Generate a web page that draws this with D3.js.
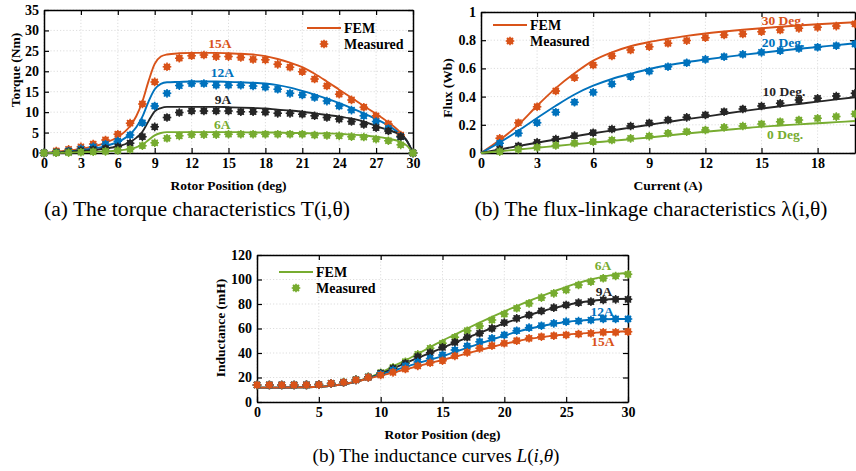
<!DOCTYPE html>
<html>
<head>
<meta charset="utf-8">
<script src="https://cdn.jsdelivr.net/npm/d3@7"></script>
<style>
    body { margin: 0; background: #fff; }
    svg { display: block; font-family: "Liberation Serif", "Times New Roman", serif; }
</style>
</head>
<body>
<div id="chart"></div>
<script>
// ---------------- data ----------------
// (a) torque vs rotor position
const torquePos = d3.range(0, 31);
const torqueFemPos = [0, 1, 2, 3, 4, 5, 6, 7, 7.5, 8, 8.5, 9, 9.5, 10, 11, 12, 13, 14, 15, 16, 17, 18, 19, 20,
    21, 22, 23, 24, 25, 26, 27, 28, 29, 29.5, 30];
const torqueFem15 = [0, 0.3, 0.6, 1.0, 1.6, 2.5, 3.9, 6.6, 9.0, 12.6, 17.6, 21.8, 23.6, 24.1, 24.4, 24.5, 24.5, 24.5,
    24.4, 24.3, 24.1, 23.7, 23.0, 22.1, 21.0, 19.4, 17.5, 15.5, 13.5, 11.5, 9.6, 7.5, 4.9, 3.0, 0];
const torqueFem12 = [0, 0.2, 0.4, 0.7, 1.1, 1.7, 2.7, 4.6, 6.3, 8.9, 12.6, 15.6, 16.9, 17.3, 17.4, 17.5, 17.5, 17.5,
    17.4, 17.3, 17.2, 17.0, 16.6, 16.0, 15.2, 14.3, 13.3, 12.2, 11.0, 9.7, 8.3, 6.7, 4.5, 3.0, 0];
const torqueFem9 = [0, 0.1, 0.3, 0.5, 0.7, 1.1, 1.6, 2.7, 3.7, 5.2, 7.8, 10.2, 11.0, 11.3, 11.3, 11.3, 11.3, 11.3,
    11.2, 11.1, 11.0, 10.9, 10.6, 10.4, 10.1, 9.7, 9.3, 8.9, 8.4, 7.7, 6.6, 5.6, 4.4, 3.0, 0];
const torqueFem6 = [0, 0.05, 0.1, 0.2, 0.3, 0.4, 0.6, 1.0, 1.4, 2.0, 3.2, 4.3, 4.9, 5.1, 5.1, 5.1, 5.1, 5.1,
    5.1, 5.1, 5.0, 5.0, 5.0, 4.9, 4.9, 4.8, 4.8, 4.7, 4.5, 4.3, 4.0, 3.5, 2.7, 1.8, 0];
const torqueMeas15 = [0, 0.5, 0.9, 1.5, 2.2, 3.2, 4.6, 7.3, 12.0, 17.4, 21.1, 23.2, 23.8, 24.0, 23.6, 23.6, 23.4,
    22.9, 22.8, 21.7, 21.0, 19.9, 18.1, 16.4, 14.4, 13.0, 11.2, 9.1, 7.1, 4.4, 0];
const torqueMeas12 = [0, 0.2, 0.5, 1.0, 1.5, 2.1, 2.9, 4.4, 7.4, 11.5, 14.6, 16.5, 17.0, 17.0, 16.6, 16.6, 16.6,
    16.4, 16.1, 15.6, 14.6, 14.2, 13.6, 12.7, 11.5, 10.5, 9.1, 7.7, 6.0, 4.0, 0];
const torqueMeas9 = [0, 0.1, 0.3, 0.6, 0.8, 1.1, 1.5, 2.4, 4.0, 6.4, 8.7, 9.9, 10.3, 10.3, 10.3, 10.3, 10.1,
    10.1, 10.0, 9.7, 9.7, 9.5, 9.1, 8.7, 8.3, 7.7, 7.0, 6.2, 5.4, 4.0, 0];
const torqueMeas6 = [0, 0.05, 0.1, 0.2, 0.3, 0.4, 0.6, 0.9, 1.8, 2.5, 3.6, 4.2, 4.5, 4.5, 4.5, 4.6, 4.6,
    4.6, 4.6, 4.6, 4.6, 4.6, 4.4, 4.3, 4.2, 4.0, 3.9, 3.4, 3.0, 2.0, 0];
const torqueXTicks = d3.range(0, 31, 3);
const torqueYTicks = [0, 5, 10, 15, 20, 25, 30, 35];

// (b) flux linkage vs current
const fluxFemCur = d3.range(0, 21);
const fluxMeasCur = d3.range(1, 21);
const fluxFem30 = [0, 0.092, 0.2, 0.335, 0.46, 0.565, 0.655, 0.714, 0.757, 0.787, 0.81, 0.831, 0.848, 0.862,
    0.874, 0.885, 0.895, 0.904, 0.913, 0.92, 0.927];
const fluxFem20 = [0, 0.075, 0.158, 0.248, 0.335, 0.415, 0.477, 0.525, 0.562, 0.596, 0.622, 0.644, 0.663, 0.68,
    0.696, 0.711, 0.725, 0.739, 0.752, 0.765, 0.778];
const fluxFem10 = [0, 0.025, 0.05, 0.073, 0.096, 0.118, 0.14, 0.16, 0.18, 0.2, 0.22, 0.24, 0.258, 0.278,
    0.297, 0.315, 0.332, 0.348, 0.364, 0.38, 0.395];
const fluxFem0 = [0, 0.012, 0.025, 0.037, 0.05, 0.062, 0.074, 0.086, 0.098, 0.11, 0.124, 0.138, 0.151, 0.163,
    0.175, 0.187, 0.195, 0.203, 0.211, 0.219, 0.227];
const fluxMeas30 = [0.104, 0.215, 0.328, 0.44, 0.534, 0.624, 0.688, 0.73, 0.754, 0.778, 0.797, 0.818, 0.837,
    0.844, 0.86, 0.872, 0.884, 0.891, 0.9, 0.915];
const fluxMeas20 = [0.069, 0.14, 0.215, 0.289, 0.36, 0.43, 0.49, 0.541, 0.58, 0.612, 0.64, 0.664, 0.683,
    0.7, 0.714, 0.726, 0.742, 0.75, 0.761, 0.773];
const fluxMeas10 = [0.026, 0.05, 0.076, 0.099, 0.123, 0.144, 0.17, 0.191, 0.213, 0.234, 0.253, 0.27, 0.293,
    0.312, 0.333, 0.352, 0.376, 0.388, 0.404, 0.423];
const fluxMeas0 = [0.01, 0.026, 0.04, 0.054, 0.069, 0.08, 0.092, 0.104, 0.12, 0.14, 0.151, 0.163, 0.182,
    0.191, 0.206, 0.222, 0.234, 0.246, 0.258, 0.277];
const fluxXTicks = [0, 3, 6, 9, 12, 15, 18];
const fluxYTicks = [0, 0.2, 0.4, 0.6, 0.8, 1];

// (c) inductance vs rotor position
const indPos = d3.range(0, 31);
const indFem6 = [11.7, 11.7, 11.8, 11.9, 12.1, 12.5, 13.2, 14.5, 16.5, 19.8, 24.0, 29.0, 34.0, 39.3, 44.7, 50.2,
    55.0, 60.0, 64.8, 69.5, 74.0, 78.3, 82.5, 86.5, 90.3, 94.0, 97.2, 100.0, 102.3, 104.2, 105.5];
const indFem9 = [11.7, 11.7, 11.8, 11.9, 12.1, 12.5, 13.2, 14.5, 16.5, 19.6, 23.0, 27.3, 31.7, 36.0, 40.2, 44.2,
    48.4, 52.5, 56.5, 60.4, 64.2, 67.7, 70.9, 73.9, 76.6, 79.0, 81.0, 82.5, 83.5, 84.1, 84.3];
const indFem12 = [11.7, 11.7, 11.8, 11.9, 12.1, 12.5, 13.2, 14.5, 16.5, 19.4, 22.3, 25.5, 28.6, 31.7, 34.6, 37.4,
    40.8, 44.2, 47.6, 51.0, 54.2, 57.2, 59.8, 62.0, 63.9, 65.3, 66.4, 67.1, 67.5, 67.7, 67.8];
const indFem15 = [11.7, 11.7, 11.8, 11.9, 12.1, 12.5, 13.2, 14.5, 16.5, 19.2, 21.5, 24.0, 26.6, 29.2, 31.8, 34.3,
    37.0, 39.7, 42.3, 44.9, 47.4, 49.6, 51.5, 53.0, 54.2, 55.1, 55.8, 56.4, 56.9, 57.3, 57.8];
const indMeas6 = [13.9, 13.9, 13.9, 13.9, 14.0, 14.2, 15.2, 16.2, 18.3, 20.6, 23.9, 28.3, 32.9, 38.9, 43.8, 47.9,
    52.8, 58.2, 62.0, 66.9, 71.8, 76.5, 80.5, 85.2, 88.7, 91.4, 95.5, 98.2, 101.0, 102.9, 104.2];
const indMeas9 = [13.9, 13.9, 13.9, 13.9, 14.0, 14.2, 15.2, 16.1, 18.1, 20.4, 23.5, 27.5, 31.6, 37.0, 40.3, 44.6,
    48.7, 52.8, 56.1, 60.1, 64.8, 68.3, 71.0, 74.3, 77.0, 79.2, 81.1, 81.9, 83.3, 83.8, 83.8];
const indMeas12 = [13.9, 13.9, 13.9, 13.9, 14.0, 14.2, 15.2, 16.1, 18.0, 20.2, 22.8, 26.0, 29.4, 32.6, 35.6, 38.4,
    42.4, 45.7, 49.2, 52.0, 54.7, 58.2, 60.7, 62.3, 64.2, 65.6, 66.1, 66.9, 67.8, 67.8, 67.8];
const indMeas15 = [13.9, 13.9, 13.9, 13.9, 14.0, 14.2, 15.2, 16.1, 18.0, 20.1, 22.0, 24.2, 26.9, 29.4, 32.0, 33.7,
    37.6, 40.5, 43.8, 46.0, 47.9, 50.0, 52.0, 53.3, 54.1, 54.7, 55.5, 56.1, 56.9, 56.9, 57.4];
const indXTicks = [0, 5, 10, 15, 20, 25, 30];
const indYTicks = [0, 20, 40, 60, 80, 100, 120];

// ---------------- drawing ----------------
const ORANGE = '#D95319', BLUE = '#0072BD', BLACK = '#262626', GREEN = '#77AC30';
const svg = d3.select('#chart').append('svg').attr('width', 856).attr('height', 471);
svg.append('rect').attr('width', 856).attr('height', 471).attr('fill', '#fff');

// filled dot with small bumps, like the measured markers
function marker(sel, color) {
    sel.append('circle').attr('r', 3.4).attr('fill', color);
    sel.append('path')
        .attr('d', 'M-4.3,0H4.3M0,-4.3V4.3M-3.1,-3.1L3.1,3.1M-3.1,3.1L3.1,-3.1')
        .attr('stroke', color).attr('stroke-width', 1.5);
}

function drawPanel(p) {
    const x = d3.scaleLinear().domain(p.xDomain).range([p.left, p.right]);
    const y = d3.scaleLinear().domain(p.yDomain).range([p.bottom, p.top]);
    const g = svg.append('g');

    // dotted grid
    const grid = g.append('g').attr('stroke', '#d4d4d4').attr('stroke-width', 0.8).attr('stroke-dasharray', '1.2,2');
    grid.selectAll('.gx').data(p.xTicks).enter().append('line')
        .attr('x1', (d) => x(d)).attr('x2', (d) => x(d)).attr('y1', p.top).attr('y2', p.bottom);
    grid.selectAll('.gy').data(p.yTicks).enter().append('line')
        .attr('y1', (d) => y(d)).attr('y2', (d) => y(d)).attr('x1', p.left).attr('x2', p.right);

    // box axes, ticks pointing inward
    const fmt = (d) => String(d);
    const axes = [
        [d3.axisBottom(x).tickValues(p.xTicks).tickFormat(fmt), `translate(0,${p.bottom})`],
        [d3.axisTop(x).tickValues(p.xTicks).tickFormat(() => ''), `translate(0,${p.top})`],
        [d3.axisLeft(y).tickValues(p.yTicks).tickFormat(fmt), `translate(${p.left},0)`],
        [d3.axisRight(y).tickValues(p.yTicks).tickFormat(() => ''), `translate(${p.right},0)`],
    ];
    axes.forEach(([ax, tr]) => {
        const a = g.append('g').attr('transform', tr)
            .call(ax.tickSize(-5).tickSizeOuter(0).tickPadding(5));
        a.select('.domain').attr('stroke', '#000').attr('stroke-width', 1.5);
        a.selectAll('.tick line').attr('stroke', '#000').attr('stroke-width', 1.2);
        a.selectAll('text').attr('fill', '#000')
            .style('font', 'bold 14px "Liberation Serif", serif');
    });

    // axis titles
    g.append('text').attr('x', (p.left + p.right) / 2).attr('y', p.bottom + 32)
        .attr('text-anchor', 'middle').attr('dominant-baseline', 'central')
        .style('font', 'bold 13.5px "Liberation Serif", serif').text(p.xLabel);
    g.append('text').attr('transform', `translate(${p.yLabelX},${p.yLabelY}) rotate(-90)`)
        .attr('text-anchor', 'middle').attr('dominant-baseline', 'central')
        .style('font', 'bold 13.5px "Liberation Serif", serif').text(p.yLabel);

    // FEM lines
    const line = d3.line().x((d) => x(d[0])).y((d) => y(d[1])).curve(d3.curveMonotoneX);
    p.series.forEach((s) => {
        g.append('path').datum(d3.zip(s.femX, s.fem))
            .attr('d', line).attr('fill', 'none')
            .attr('stroke', s.color).attr('stroke-width', 1.9);
    });
    // measured markers
    p.series.forEach((s) => {
        g.append('g').selectAll('g').data(d3.zip(s.measX, s.meas)).enter().append('g')
            .attr('transform', (d) => `translate(${x(d[0])},${y(d[1])})`)
            .each(function () { marker(d3.select(this), s.color); });
    });
    // curve labels
    p.series.forEach((s) => {
        g.append('text').attr('x', x(s.label[0])).attr('y', y(s.label[1]))
            .attr('text-anchor', 'middle').attr('dominant-baseline', 'central')
            .attr('fill', s.color)
            .style('font', 'bold 13.5px "Liberation Serif", serif').text(s.name);
    });

    // legend
    const L = p.legend;
    g.append('line').attr('x1', L.x).attr('x2', L.x + 34).attr('y1', L.y).attr('y2', L.y)
        .attr('stroke', L.color).attr('stroke-width', 1.9);
    marker(g.append('g').attr('transform', `translate(${L.x + 17},${L.y + 16})`), L.color);
    ['FEM', 'Measured'].forEach((t, i) => {
        g.append('text').attr('x', L.x + 37).attr('y', L.y + i * 16)
            .attr('dominant-baseline', 'central')
            .style('font', 'bold 14px "Liberation Serif", serif').text(t);
    });
}

drawPanel({
    left: 44, right: 413, top: 10, bottom: 153,
    xDomain: [0, 30], yDomain: [0, 35], xTicks: torqueXTicks, yTicks: torqueYTicks,
    xLabel: 'Rotor Position (deg)', yLabel: 'Torque (Nm)', yLabelX: 15, yLabelY: 70,
    legend: { x: 307, y: 28, color: ORANGE },
    series: [
        { name: '15A', color: ORANGE, femX: torqueFemPos, fem: torqueFem15, measX: torquePos, meas: torqueMeas15, label: [14.3, 26.9] },
        { name: '12A', color: BLUE, femX: torqueFemPos, fem: torqueFem12, measX: torquePos, meas: torqueMeas12, label: [14.5, 19.8] },
        { name: '9A', color: BLACK, femX: torqueFemPos, fem: torqueFem9, measX: torquePos, meas: torqueMeas9, label: [14.55, 13.2] },
        { name: '6A', color: GREEN, femX: torqueFemPos, fem: torqueFem6, measX: torquePos, meas: torqueMeas6, label: [14.5, 6.9] },
    ],
});

drawPanel({
    left: 481, right: 855, top: 12, bottom: 153,
    xDomain: [0, 20], yDomain: [0, 1], xTicks: fluxXTicks, yTicks: fluxYTicks,
    xLabel: 'Current (A)', yLabel: 'Flux (Wb)', yLabelX: 447, yLabelY: 88,
    legend: { x: 493, y: 25, color: ORANGE },
    series: [
        { name: '30 Deg.', color: ORANGE, femX: fluxFemCur, fem: fluxFem30, measX: fluxMeasCur, meas: fluxMeas30, label: [16.15, 0.943] },
        { name: '20 Deg.', color: BLUE, femX: fluxFemCur, fem: fluxFem20, measX: fluxMeasCur, meas: fluxMeas20, label: [16.15, 0.787] },
        { name: '10 Deg.', color: BLACK, femX: fluxFemCur, fem: fluxFem10, measX: fluxMeasCur, meas: fluxMeas10, label: [16.2, 0.433] },
        { name: '0 Deg.', color: GREEN, femX: fluxFemCur, fem: fluxFem0, measX: fluxMeasCur, meas: fluxMeas0, label: [16.26, 0.128] },
    ],
});

drawPanel({
    left: 257, right: 628, top: 255, bottom: 402,
    xDomain: [0, 30], yDomain: [0, 120], xTicks: indXTicks, yTicks: indYTicks,
    xLabel: 'Rotor Position (deg)', yLabel: 'Inductance (mH)', yLabelX: 220, yLabelY: 328,
    legend: { x: 279, y: 272, color: GREEN },
    series: [
        { name: '6A', color: GREEN, femX: indPos, fem: indFem6, measX: indPos, meas: indMeas6, label: [27.97, 111.8] },
        { name: '9A', color: BLACK, femX: indPos, fem: indFem9, measX: indPos, meas: indMeas9, label: [28.05, 90.6] },
        { name: '12A', color: BLUE, femX: indPos, fem: indFem12, measX: indPos, meas: indMeas12, label: [27.9, 73.5] },
        { name: '15A', color: ORANGE, femX: indPos, fem: indFem15, measX: indPos, meas: indMeas15, label: [27.97, 49.0] },
    ],
});

// captions
const capFont = '"Liberation Serif", "Times New Roman", serif';
svg.append('text').attr('x', 197).attr('y', 209).attr('text-anchor', 'middle').attr('dominant-baseline', 'central')
    .attr('textLength', 306).attr('lengthAdjust', 'spacingAndGlyphs')
    .style('font-family', capFont).style('font-size', '20px')
    .text('(a) The torque characteristics T(i,θ)');
svg.append('text').attr('x', 651).attr('y', 209).attr('text-anchor', 'middle').attr('dominant-baseline', 'central')
    .attr('textLength', 353).attr('lengthAdjust', 'spacingAndGlyphs')
    .style('font-family', capFont).style('font-size', '20px')
    .text('(b) The flux-linkage characteristics λ(i,θ)');
const capC = svg.append('text').attr('x', 436).attr('y', 455).attr('text-anchor', 'middle')
    .attr('dominant-baseline', 'central')
    .attr('textLength', 247).attr('lengthAdjust', 'spacingAndGlyphs')
    .style('font-family', capFont).style('font-size', '19px');
[['(b) The inductance curves ', 'normal'], ['L', 'italic'], ['(', 'normal'], ['i', 'italic'],
 [',', 'normal'], ['θ', 'italic'], [')', 'normal']].forEach(([t, st]) => {
    capC.append('tspan').style('font-style', st).text(t);
});
</script>
</body>
</html>
